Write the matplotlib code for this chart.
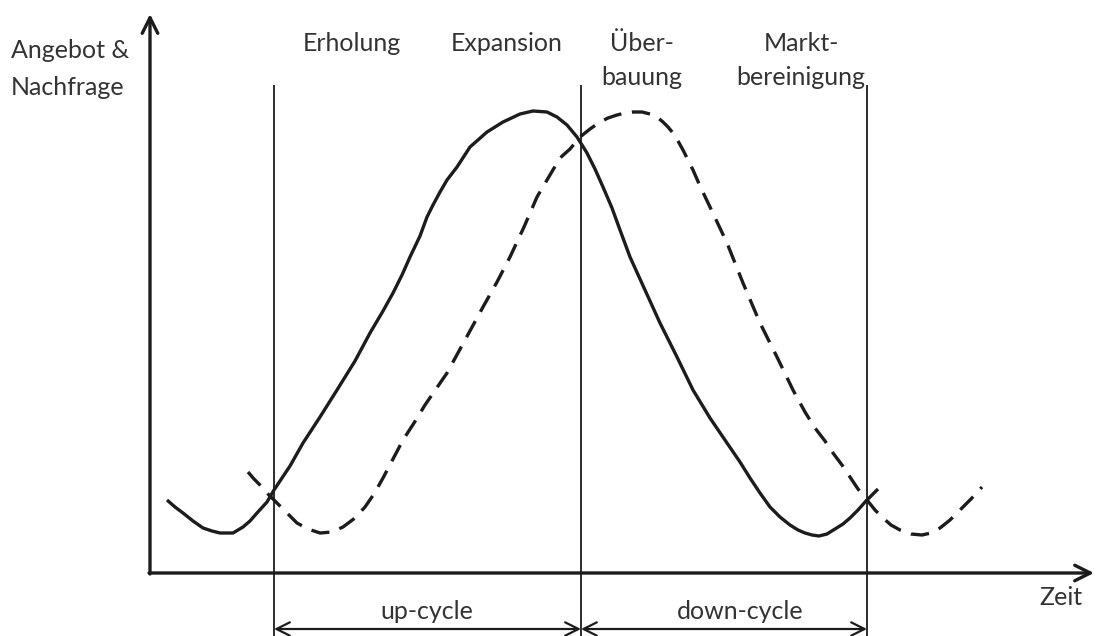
import matplotlib
matplotlib.use("Agg")
import matplotlib.pyplot as plt

# curve points (x = Zeit, y = level, picture units, y grows downwards)
demand_x = [167, 175, 183, 193, 203, 212, 220, 233, 243, 250, 257, 267, 274, 290, 303, 320, 337,
            355, 370, 383, 393, 402, 410, 420, 427, 433, 440, 447, 457, 470, 487, 503, 520, 533,
            547, 557, 567, 577, 587, 595, 603, 612, 620, 630, 645, 660, 677, 693, 710, 727, 740,
            750, 760, 770, 780, 790, 798, 805, 812, 819, 827, 835, 843, 850, 858, 866, 872, 878]
demand_y = [500, 507, 513, 521, 528, 531, 533, 533, 527, 521, 513, 502, 490, 466, 443, 417, 390,
            361, 333, 311, 293, 275, 257, 236, 217, 205, 192, 180, 167, 147, 132, 122, 114, 111,
            112, 117, 125, 137, 153, 169, 187, 208, 230, 257, 290, 323, 357, 390, 418, 443, 462,
            478, 493, 507, 517, 525, 530, 533, 535, 536, 534, 529, 524, 518, 510, 501, 495, 489]

supply_x = [248, 254, 260, 268, 277, 287, 297, 308, 320, 332, 343, 355, 365, 374, 383, 393, 403,
            414, 425, 436, 447, 465, 483, 497, 510, 524, 537, 547, 560, 570, 580, 590, 600, 608,
            617, 625, 633, 642, 650, 657, 663, 668, 673, 678, 683, 688, 693, 700, 710, 727, 743,
            760, 777, 793, 805, 815, 825, 833, 842, 850, 858, 867, 875, 883, 891, 900, 911, 922,
            931, 940, 950, 960, 971, 982]
supply_y = [472, 479, 485, 494, 503, 513, 523, 529, 533, 532, 527, 518, 507, 494, 478, 459, 440,
            423, 405, 389, 373, 340, 307, 282, 257, 227, 197, 180, 158, 149, 137, 129, 122, 118,
            115, 113, 112, 112, 114, 117, 122, 127, 133, 141, 150, 160, 170, 186, 207, 243, 283,
            323, 357, 390, 412, 428, 441, 453, 465, 477, 489, 500, 510, 518, 525, 530, 534, 535,
            533, 528, 520, 510, 499, 487]

phase_bounds = [274, 581, 867]
phase_labels = [["Erholung"], ["Expansion"], ["Über-", "bauung"], ["Markt-", "bereinigung"]]
phase_label_x = [352, 507, 642, 801]
cycle_labels = ["up-cycle", "down-cycle"]
y_label = ["Angebot &", "Nachfrage"]
x_label = "Zeit"

ink = "#1c1c1c"
txt = "#333333"
font = "Lato"
fs = 18

fig = plt.figure(figsize=(10.98, 6.36), dpi=100)
ax = fig.add_axes([0, 0, 1, 1])
ax.set_xlim(0, 1098)
ax.set_ylim(636, 0)
ax.axis("off")

# axes with arrows
ax.annotate("", xy=(150, 14), xytext=(150, 574),
            arrowprops=dict(arrowstyle="->", lw=2.4, color=ink, mutation_scale=28, shrinkA=0, shrinkB=0))
ax.annotate("", xy=(1094, 573), xytext=(149, 573),
            arrowprops=dict(arrowstyle="->", lw=2.4, color=ink, mutation_scale=28, shrinkA=0, shrinkB=0))

# phase boundaries
ax.vlines(phase_bounds, 85, 636, color=ink, lw=1.3)

# curves
ax.plot(demand_x, demand_y, color=ink, lw=2.4, solid_joinstyle="round", solid_capstyle="butt")
ax.plot(supply_x, supply_y, color=ink, lw=2.4, dashes=(5.5, 3.2), dash_capstyle="butt")

# cycle arrows
for i, lab in enumerate(cycle_labels):
    x0, x1 = phase_bounds[i], phase_bounds[i + 1]
    ax.annotate("", xy=(x1, 629), xytext=(x0, 629),
                arrowprops=dict(arrowstyle="<->", lw=1.6, color=ink, mutation_scale=24,
                                shrinkA=0, shrinkB=0))
    ax.text([427, 740][i], 619, lab, ha="center", va="baseline", fontsize=fs,
            color=txt, family=font)

for lines, x in zip(phase_labels, phase_label_x):
    for k, line in enumerate(lines):
        ax.text(x, 51 + 34 * k, line, ha="center", va="baseline", fontsize=fs, color=txt,
                family=font)

for k, line in enumerate(y_label):
    ax.text(11, 58 + 37 * k, line, ha="left", va="baseline", fontsize=fs, color=txt, family=font)
ax.text(1061, 605, x_label, ha="center", va="baseline", fontsize=fs, color=txt, family=font)

fig.savefig("out.png", dpi=100)
